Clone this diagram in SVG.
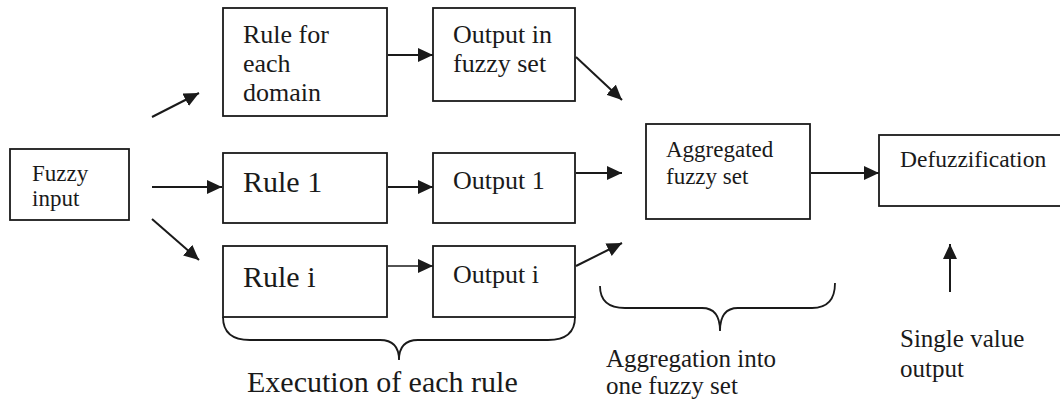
<svg xmlns="http://www.w3.org/2000/svg" width="1060" height="402" viewBox="0 0 1060 402">
  <style>
    .box { fill: #ffffff; stroke: #1a1a1a; stroke-width: 1.8; }
    .t { font-family: "Liberation Serif", "Times New Roman", serif; fill: #1a1a1a; }
    .edge { stroke: #1a1a1a; stroke-width: 2; fill: none; marker-end: url(#arrow); }
    .thin { stroke-width: 1.4; }
    .brace { stroke: #1a1a1a; stroke-width: 1.8; fill: none; }
  </style>
  <defs>
    <marker id="arrow" viewBox="0 0 15 14" refX="15" refY="7" markerWidth="15" markerHeight="14" markerUnits="userSpaceOnUse" orient="auto">
      <path d="M0,0 L15,7 L0,14 z" fill="#1a1a1a"/>
    </marker>
  </defs>
  <rect width="1060" height="402" fill="#ffffff"/>

  <!-- nodes -->
  <g id="fuzzy-input">
    <rect class="box" x="10" y="149" width="119" height="71"/>
    <text class="t" font-size="23" x="32" y="181">Fuzzy</text>
    <text class="t" font-size="23" x="32" y="206">input</text>
  </g>
  <g id="rule-domain">
    <rect class="box" x="223" y="8" width="164" height="108"/>
    <text class="t" font-size="26" x="243" y="43">Rule for</text>
    <text class="t" font-size="26" x="243" y="72">each</text>
    <text class="t" font-size="26" x="243" y="101">domain</text>
  </g>
  <g id="rule-1">
    <rect class="box" x="223" y="153" width="164" height="70"/>
    <text class="t" font-size="30" x="243" y="192">Rule 1</text>
  </g>
  <g id="rule-i">
    <rect class="box" x="223" y="246" width="164" height="71"/>
    <text class="t" font-size="30" x="243" y="287">Rule i</text>
  </g>
  <g id="output-fuzzy">
    <rect class="box" x="433" y="8" width="142" height="93"/>
    <text class="t" font-size="26" x="453" y="43">Output in</text>
    <text class="t" font-size="26" x="453" y="72">fuzzy set</text>
  </g>
  <g id="output-1">
    <rect class="box" x="433" y="153" width="142" height="70"/>
    <text class="t" font-size="26" x="453" y="189">Output 1</text>
  </g>
  <g id="output-i">
    <rect class="box" x="433" y="246" width="142" height="71"/>
    <text class="t" font-size="26" x="453" y="283">Output i</text>
  </g>
  <g id="aggregated">
    <rect class="box" x="646" y="124" width="164" height="95"/>
    <text class="t" font-size="23" x="666" y="157">Aggregated</text>
    <text class="t" font-size="23" x="666" y="184">fuzzy set</text>
  </g>
  <g id="defuzzification">
    <rect class="box" x="879" y="135" width="200" height="71"/>
    <text class="t" font-size="23.5" x="900" y="167">Defuzzification</text>
  </g>

  <!-- connectors -->
  <g id="connectors">
    <line class="edge" x1="152" y1="117" x2="199" y2="93"/>
    <line class="edge" x1="152" y1="187" x2="222" y2="187"/>
    <line class="edge" x1="152" y1="219" x2="199" y2="260"/>
    <line class="edge" x1="388" y1="55" x2="433" y2="55"/>
    <line class="edge" x1="388" y1="187" x2="433" y2="187"/>
    <line class="edge thin" x1="388" y1="266" x2="433" y2="266"/>
    <line class="edge" x1="576" y1="57" x2="622" y2="100"/>
    <line class="edge" x1="576" y1="173" x2="622" y2="173"/>
    <line class="edge" x1="576" y1="266" x2="622" y2="243"/>
    <line class="edge" x1="811" y1="173" x2="879" y2="173"/>
    <line class="edge" x1="950" y1="292" x2="950" y2="244"/>
  </g>

  <!-- braces and annotations -->
  <g id="brace-execution">
    <path class="brace" d="M223,317 Q223,340 250,340 L380,340 Q399,340 399,360 Q399,340 418,340 L548,340 Q575,340 575,317"/>
    <text class="t" font-size="30" x="247" y="392">Execution of each rule</text>
  </g>
  <g id="brace-aggregation">
    <path class="brace" d="M600,286 Q600,308 625,308 L702,308 Q720,308 720,331 Q720,308 738,308 L812,308 Q835,308 835,283"/>
    <text class="t" font-size="25" x="606" y="367">Aggregation into</text>
    <text class="t" font-size="25" x="606" y="394">one fuzzy set</text>
  </g>
  <g id="single-value">
    <text class="t" font-size="25" x="900" y="347">Single value</text>
    <text class="t" font-size="25" x="900" y="377">output</text>
  </g>
</svg>
